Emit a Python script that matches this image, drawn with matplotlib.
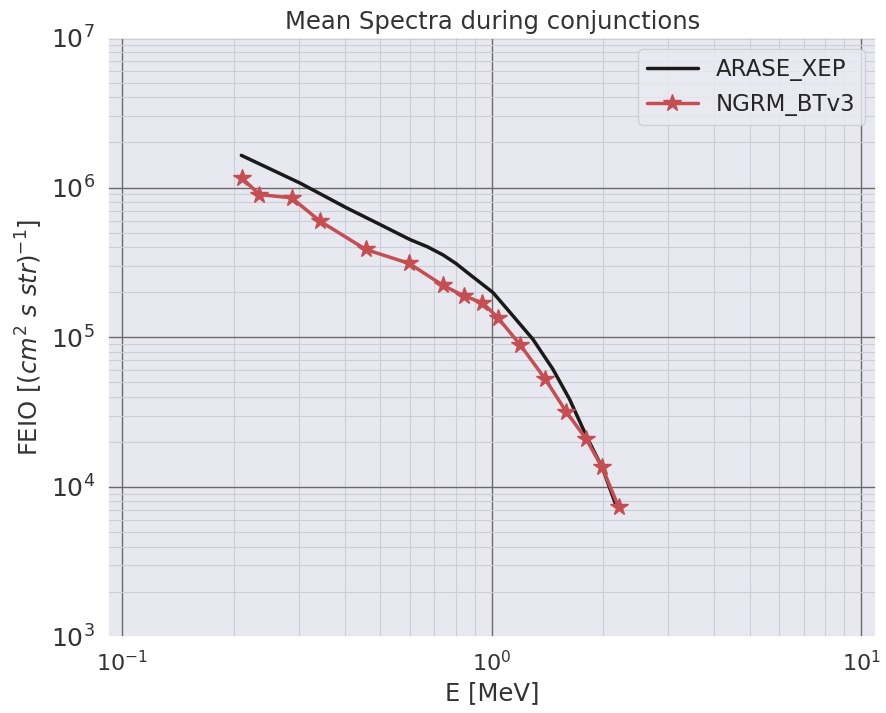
import numpy as np
import seaborn as sns
from matplotlib import pyplot as plt

sns.set_theme(style='darkgrid', color_codes=True)

# ARASE_XEP mean spectrum (energy in MeV, flux)
arase_energy = [0.210, 0.303, 0.404, 0.498, 0.600, 0.670, 0.738, 0.799, 0.872,
                1.008, 1.142, 1.293, 1.465, 1.625, 1.803, 2.000, 2.173]
arase_flux = [1.64e6, 1.07e6, 7.33e5, 5.67e5, 4.50e5, 4.02e5, 3.55e5, 3.12e5,
              2.63e5, 1.99e5, 1.39e5, 9.70e4, 6.12e4, 3.86e4, 2.20e4, 1.32e4,
              7.50e3]

# NGRM_BTv3 mean spectrum
ngrm_energy = [0.2106, 0.235, 0.2874, 0.343, 0.456, 0.598, 0.738, 0.841, 0.944,
               1.04, 1.197, 1.397, 1.592, 1.803, 1.992, 2.208]
ngrm_flux = [1.16e6, 8.98e5, 8.53e5, 5.96e5, 3.86e5, 3.11e5, 2.22e5, 1.89e5,
             1.70e5, 1.35e5, 8.85e4, 5.25e4, 3.18e4, 2.09e4, 1.35e4, 7.33e3]

fig = plt.figure(figsize=(8.86, 7.13), dpi=100)
ax = fig.add_axes([0.122, 0.107, 0.867, 0.840])
ax.set_facecolor('#e8e8f0')

ax.plot(arase_energy, arase_flux, color='k', lw=2.5, label='ARASE_XEP')
ax.plot(ngrm_energy, ngrm_flux, color='r', lw=2.5, marker='*', markersize=13,
        label='NGRM_BTv3')

ax.set_xscale('log')
ax.set_yscale('log')
ax.set_xlim(0.0915, 11.0)
ax.set_ylim(1e3, 1e7)

ax.grid(True, which='major', color='#6a6a6a', lw=1.0)
ax.grid(True, which='minor', color='#cdcfd8', lw=0.8)
ax.minorticks_on()

ax.set_title('Mean Spectra during conjunctions', fontsize=17.5, color='#333333')
ax.set_xlabel('E [MeV]', fontsize=17.5, color='#333333')
ax.set_ylabel(r'FEIO [$(cm^2\ s\ str)^{-1}$]', fontsize=17.5, color='#333333',
              labelpad=4)
ax.tick_params(axis='x', which='major', labelsize=16, labelcolor='#333333')
ax.tick_params(axis='y', which='major', labelsize=18, labelcolor='#333333')

ax.legend(loc='upper right', fontsize=16.5, handlelength=2.2)

fig.savefig('out.png', dpi=100)
